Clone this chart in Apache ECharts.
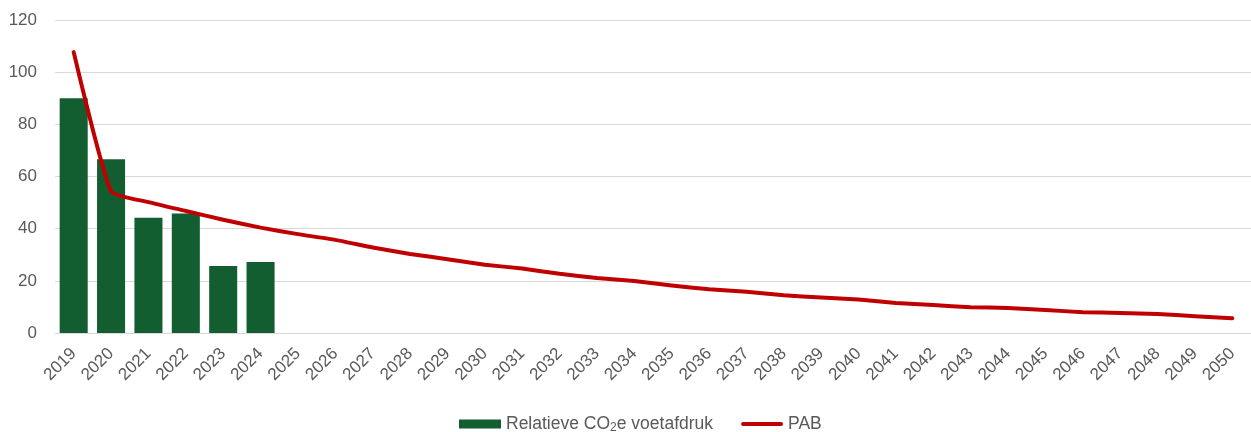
<!DOCTYPE html>
<head>
<meta charset="utf-8">
<title>ECharts</title>
</head>
<body style="margin:0">
<div id="home" style="width: 1251px; height: 432px"></div>
<script src="https://cdn.jsdelivr.net/npm/echarts@6/dist/echarts.min.js"></script>
<script>
// jaren 2019 - 2050
var years = [];
for (var y = 2019; y <= 2050; y++) years.push(String(y));

var voetafdruk = [90.0, 66.6, 44.2, 45.8, 25.7, 27.2];
var pab = [107.7, 54.3, 50.2, 46.8, 43.4, 40.4, 37.9, 35.7, 32.8, 30.3,
           28.3, 26.2, 24.7, 22.7, 21.1, 19.9, 18.2, 16.8, 15.8, 14.5,
           13.6, 12.8, 11.5, 10.7, 9.9, 9.6, 8.8, 8.0, 7.7, 7.3,
           6.4, 5.7];
var yTicks = [0, 20, 40, 60, 80, 100, 120];

var font = '"Liberation Sans", Arial, sans-serif';
var myChart = echarts.init(document.getElementById('home'));
myChart.setOption({
    animation: false,
    textStyle: { fontFamily: font },
    grid: { left: 55, right: -2, top: 20, bottom: 99 },
    legend: {
        top: 410,
        left: 454,
        itemGap: 28,
        itemWidth: 42,
        itemHeight: 9,
        textStyle: {
            color: '#595959',
            fontSize: 17.5,
            fontFamily: font,
            rich: {
                sub: { fontSize: 12, verticalAlign: 'bottom', padding: [7, 0, 0, 0], color: '#595959', fontFamily: font }
            }
        },
        formatter: function (name) {
            if (name === 'voetafdruk') return 'Relatieve CO{sub|2}e voetafdruk';
            return name;
        },
        data: [
            { name: 'voetafdruk', icon: 'rect' },
            { name: 'PAB', icon: 'path://M2,0 H40 A2,2 0 0 1 40,4 H2 A2,2 0 0 1 2,0 Z' }
        ]
    },
    xAxis: {
        type: 'category',
        data: years,
        axisLine: { show: false },
        axisTick: { show: false },
        axisLabel: {
            rotate: 45,
            interval: 0,
            margin: 18,
            color: '#595959',
            fontSize: 17,
            fontFamily: font
        }
    },
    yAxis: {
        type: 'value',
        min: yTicks[0],
        max: yTicks[yTicks.length - 1],
        interval: 20,
        axisLabel: { margin: 18, color: '#595959', fontSize: 17, fontFamily: font },
        splitLine: { lineStyle: { color: '#D9D9D9', width: 1 } }
    },
    series: [{
        name: 'voetafdruk',
        type: 'bar',
        barWidth: '75%',
        data: voetafdruk,
        itemStyle: { color: '#135E30' }
    }, {
        name: 'PAB',
        type: 'line',
        data: pab,
        symbol: 'none',
        smooth: 0.15,
        lineStyle: { color: '#C00000', width: 4, cap: 'round', join: 'round' },
        itemStyle: { color: '#C00000' }
    }]
});
</script>
</body>
</html>
